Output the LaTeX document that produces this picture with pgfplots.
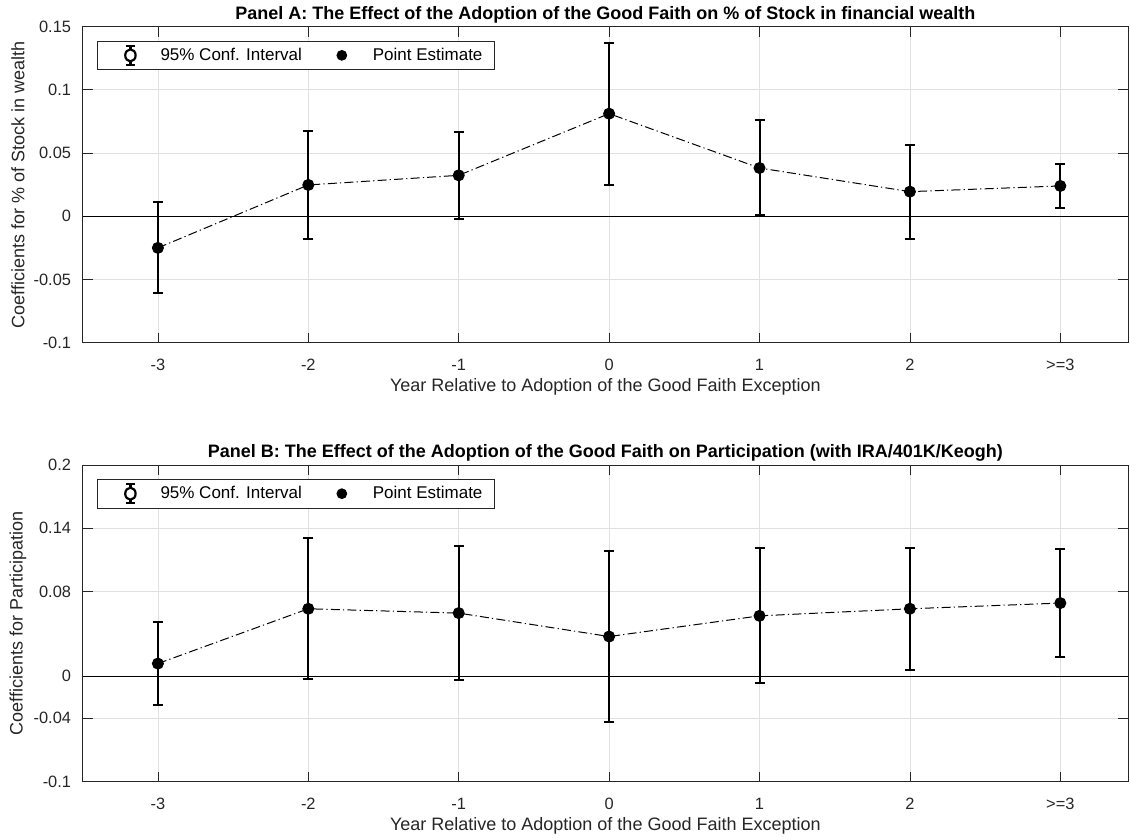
\documentclass[border=0pt]{standalone}
\usepackage{pgfplots}
\pgfplotsset{compat=1.18}
\usepackage{pgfplotstable}
\usepackage{fontspec}
\setmainfont{Liberation Sans}

\pgfplotstableread{
x y lo hi
-3 -0.0250 -0.0610 0.0110
-2 0.0248 -0.0177 0.0677
-1 0.0324 -0.0025 0.0667
0 0.0812 0.0250 0.1370
1 0.0382 0.0013 0.0759
2 0.0195 -0.0177 0.0566
3 0.0240 0.0066 0.0410
}\tableA

\pgfplotstableread{
x y lo hi
-3 0.0119 -0.0275 0.0514
-2 0.0638 -0.0028 0.1307
-1 0.0597 -0.0041 0.1234
0 0.0375 -0.0436 0.1190
1 0.0571 -0.0066 0.1212
2 0.0638 0.0060 0.1218
3 0.0692 0.0180 0.1203
}\tableB

\definecolor{axc}{gray}{0.15}

\pgfplotsset{
  panel/.style={
    scale only axis,
    width=522.65pt,
    xmin=-3.5, xmax=3.45,
    xtick={-3,-2,-1,0,1,2,3},
    xticklabels={-3,-2,-1,0,1,2,{>=3}},
    tick align=inside,
    tick pos=both,
    xticklabel pos=lower,
    yticklabel pos=left,
    major tick length=5pt,
    grid=major,
    major grid style={black!12, line width=0.4pt},
    axis line style={axc, line width=0.4pt},
    tick style={axc, line width=0.4pt},
    tick label style={font=\fontsize{8.2}{9}\selectfont, text=axc},
    xticklabel style={yshift=-4.5pt},
    yticklabel style={xshift=-2.3pt},
    label style={font=\fontsize{9}{10}\selectfont, text=axc},
    xlabel style={at={(axis description cs:0.5,-0.14)}, anchor=center},
    ylabel style={at={(axis description cs:-0.0619,0.5)}, anchor=center},
    every axis title shift=0pt,
    title style={font=\bfseries\fontsize{9}{10}\selectfont, at={(axis description cs:0.5,1)}, anchor=base, yshift=3.5pt},
    xlabel={Year Relative to Adoption of the Good Faith Exception},
    legend columns=2,
    legend cell align=left,
    legend style={at={(axis description cs:0.0137,0.956)}, anchor=north west,
      draw=axc, line width=0.4pt, fill=white,
      font=\fontsize{8.5}{10}\selectfont,
      inner xsep=3.6pt, inner ysep=0.8pt,
      nodes={inner sep=2.55pt},
      /tikz/every even column/.append style={column sep=8pt}},
  },
  cibar/.style={
    black, line width=0.5pt,
    dash pattern=on 4.5pt off 1.6pt on 0.6pt off 1.6pt,
    mark=none,
    error bars/.cd, y dir=both, y explicit,
    error bar style={solid, line width=1pt, black},
    error mark options={rotate=90, solid, line width=1pt, black, mark size=2.5pt},
    /pgfplots/.cd,
  },
  ciimg/.style={
    legend image code/.code={
      \path[draw=none, fill=none] (0pt,0pt) -- (25.4pt,0pt);
      \draw[black, line width=1.1pt, solid] (12.9pt,-4.7pt) -- (12.9pt,4.7pt)
        (10.6pt,-4.7pt) -- (15.2pt,-4.7pt) (10.6pt,4.7pt) -- (15.2pt,4.7pt);
      \draw[black, line width=1.1pt, solid, fill=white] (12.9pt,0pt) ellipse (2.6pt and 3pt);
    }
  },
  ptimg/.style={
    legend image code/.code={
      \path[draw=none, fill=none] (0pt,0pt) -- (22.35pt,0pt);
      \fill[black, draw=none] (9.4pt,0pt) circle (2.7pt);
    }
  },
}

\begin{document}
\begin{tikzpicture}
\useasboundingbox (0,0) rectangle (565pt,420pt);

\begin{axis}[panel,
  at={(41.35pt,248.65pt)}, anchor=south west,
  height=158pt,
  ymin=-0.1, ymax=0.15,
  ytick={-0.1,-0.05,0,0.05,0.1,0.15},
  yticklabels={-0.1,-0.05,0,0.05,0.1,0.15},
  ylabel={Coefficients for \% of Stock in wealth},
  title={Panel A: The Effect of the Adoption of the Good Faith on \% of Stock in financial wealth},
]
\addplot[black, line width=0.5pt, forget plot] coordinates {(-3.5,0) (3.45,0)};
\addplot[ciimg, cibar] table[x=x, y=y, y error plus expr=\thisrow{hi}-\thisrow{y}, y error minus expr=\thisrow{y}-\thisrow{lo}] {\tableA};
\addlegendentry{95\% Conf. Interval}
\addplot[only marks, mark=*, mark size=2.8pt, black, ptimg] table[x=x, y=y] {\tableA};
\addlegendentry{Point Estimate}
\end{axis}

\begin{axis}[panel,
  at={(41.35pt,29.15pt)}, anchor=south west,
  height=158.35pt,
  ymin=-0.1, ymax=0.2,
  ytick={-0.1,-0.04,0,0.08,0.14,0.2},
  yticklabels={-0.1,-0.04,0,0.08,0.14,0.2},
  ylabel={Coefficients for Participation},
  title={Panel B: The Effect of the Adoption of the Good Faith on Participation (with IRA/401K/Keogh)},
]
\addplot[black, line width=0.5pt, forget plot] coordinates {(-3.5,0) (3.45,0)};
\addplot[ciimg, cibar] table[x=x, y=y, y error plus expr=\thisrow{hi}-\thisrow{y}, y error minus expr=\thisrow{y}-\thisrow{lo}] {\tableB};
\addlegendentry{95\% Conf. Interval}
\addplot[only marks, mark=*, mark size=2.8pt, black, ptimg] table[x=x, y=y] {\tableB};
\addlegendentry{Point Estimate}
\end{axis}
\end{tikzpicture}
\end{document}
